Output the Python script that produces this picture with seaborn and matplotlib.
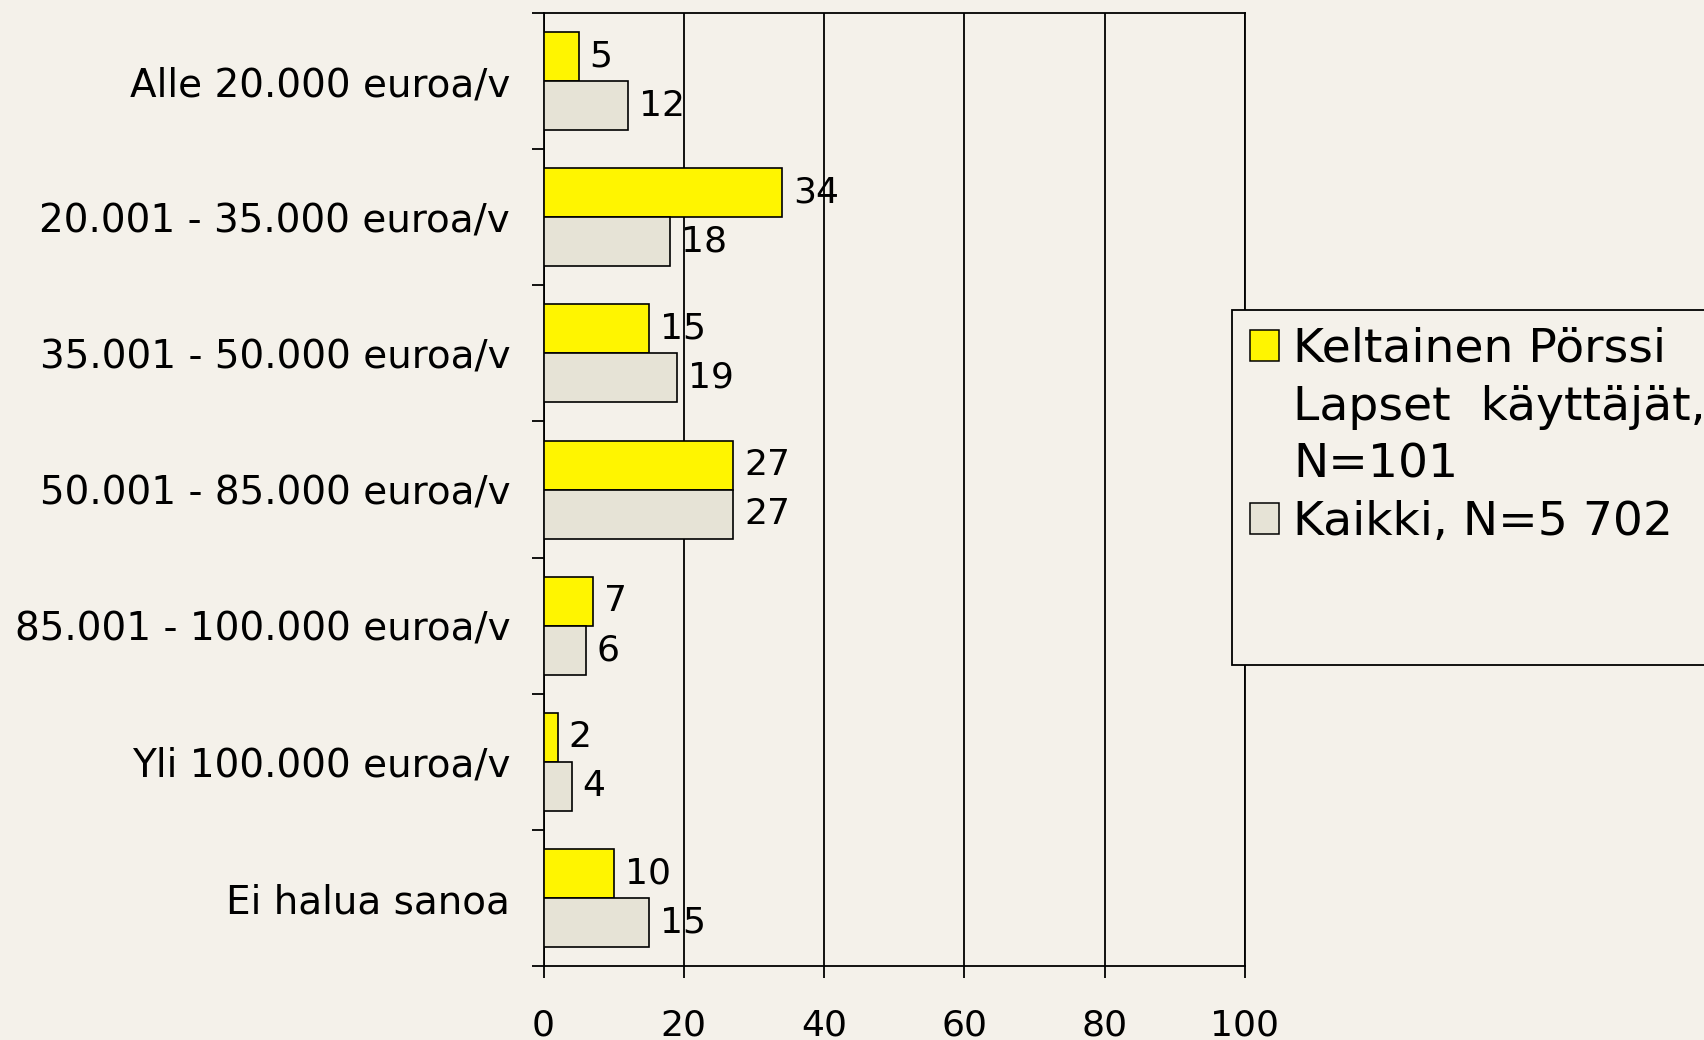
import numpy as np
import pandas as pd
import matplotlib
matplotlib.use('Agg')
import matplotlib.pyplot as plt
import seaborn as sns
from matplotlib.patches import Patch, Rectangle

# data (%)
categories = ['Alle 20.000 euroa/v', '20.001 - 35.000 euroa/v', '35.001 - 50.000 euroa/v',
              '50.001 - 85.000 euroa/v', '85.001 - 100.000 euroa/v', 'Yli 100.000 euroa/v',
              'Ei halua sanoa']
keltainen = [5, 34, 15, 27, 7, 2, 10]
kaikki = [12, 18, 19, 27, 6, 4, 15]
series_names = ['Keltainen Pörssi\nLapset  käyttäjät,\nN=101', 'Kaikki, N=5 702']
x_ticks = [0, 20, 40, 60, 80, 100]

BG = '#F4F1EA'
YELLOW = '#FFF500'
GREY = '#E6E3D6'

sns.set_style('white')
plt.rcParams['font.family'] = ['DejaVu Sans']
plt.rcParams['text.color'] = 'black'
plt.rcParams['xtick.labelcolor'] = 'black'
plt.rcParams['ytick.labelcolor'] = 'black'

df = pd.DataFrame({
    'luokka': categories * 2,
    'osuus': keltainen + kaikki,
    'ryhma': [series_names[0]] * len(categories) + [series_names[1]] * len(categories),
})

fig = plt.figure(figsize=(17.04, 10.4), dpi=100, facecolor=BG)
ax = fig.add_axes([0.319, 0.071, 0.4115, 0.9165])
ax.set_facecolor(BG)

sns.barplot(data=df, y='luokka', x='osuus', hue='ryhma', orient='h',
            palette=[YELLOW, GREY], saturation=1, width=0.72,
            edgecolor='black', linewidth=1.2, legend=False, ax=ax, zorder=3)

for cont in ax.containers:
    ax.bar_label(cont, fmt='%d', padding=8, fontsize=26, color='black')

ax.set_xlim(0, 100)
ax.set_ylim(len(categories) - 0.5, -0.5)
ax.set_xticks(x_ticks)
ax.set_xlabel('')
ax.set_ylabel('')
ax.xaxis.grid(True, color='black', linewidth=1.3, zorder=0)
ax.set_axisbelow(True)

# tick marks at category boundaries
ax.set_yticks(np.arange(-0.5, len(categories), 1.0), minor=True)
ax.tick_params(axis='y', which='major', length=0, pad=24, labelsize=28, colors='black')
ax.tick_params(axis='y', which='minor', length=8.5, width=1.3, direction='out', color='black', left=True)
ax.tick_params(axis='x', which='major', length=8.5, width=1.3, direction='out', colors='black',
               pad=22, labelsize=26, bottom=True)

for side in ['left', 'right', 'top', 'bottom']:
    ax.spines[side].set_visible(True)
    ax.spines[side].set_color('black')
    ax.spines[side].set_linewidth(1.3)

# legend box (runs off the right edge as in the reference)
fig.patches.append(Rectangle((1232 / 1704, 1 - 665 / 1040), 0.4, 355 / 1040,
                             transform=fig.transFigure, facecolor=BG, edgecolor='black',
                             linewidth=1.3, zorder=5))
blank = Patch(facecolor='none', edgecolor='none')
handles = [Patch(facecolor=YELLOW, edgecolor='black', linewidth=1.1), blank, blank,
           Patch(facecolor=GREY, edgecolor='black', linewidth=1.1)]
labels = ['Keltainen Pörssi', 'Lapset  käyttäjät,', 'N=101', 'Kaikki, N=5 702']
leg = fig.legend(handles, labels, loc='upper left', bbox_to_anchor=(1250 / 1704, 1 - 327 / 1040),
                 frameon=False, fontsize=34, handlelength=0.62, handleheight=0.62,
                 handletextpad=0.3, labelspacing=0.27, borderpad=0, borderaxespad=0)
leg.set_zorder(6)
for t in leg.get_texts():
    t.set_color('black')

fig.savefig('out.png', dpi=100, facecolor=BG)
